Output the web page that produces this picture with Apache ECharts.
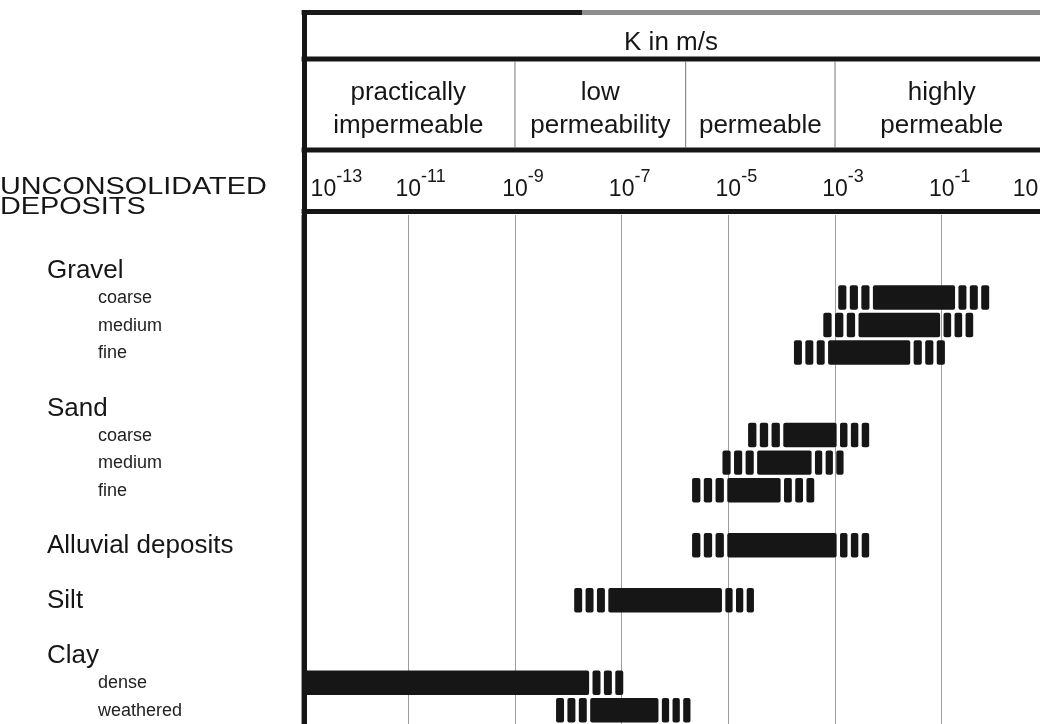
<!DOCTYPE html>
<html><head><meta charset="utf-8">
<script src="https://cdn.jsdelivr.net/npm/echarts@6/dist/echarts.min.js"></script>
<style>html,body{margin:0;padding:0;background:#fff}#c{width:1040px;height:724px}</style>
</head><body><div id="c"></div>
<script>
// ---------------- data ----------------
const rowLabels = ['Gravel','coarse','medium','fine','Sand','coarse','medium','fine','Alluvial deposits','Silt','Clay','dense','weathered'];
const rowIsGroup = [true,false,false,false,true,false,false,false,true,true,true,false,false];
// bars (log10 of K in m/s): row index, uncertain min, typical min, typical max, uncertain max
const barRows          = [1, 2, 3, 5, 6, 7, 8, 9, 11, 12];
const logKMinUncertain = [-2.94,-3.22,-3.77,-4.63,-5.11,-5.68,-5.68,-7.89,-13.00,-8.23];
const logKMinTypical   = [-2.29,-2.56,-3.13,-3.97,-4.46,-5.02,-5.02,-7.25,-13.00,-7.59];
const logKMaxTypical   = [-0.75,-1.03,-1.59,-2.97,-3.44,-4.02,-2.97,-5.12,-7.61,-6.31];
const logKMaxUncertain = [-0.11,-0.41,-0.94,-2.36,-2.84,-3.39,-2.36,-4.52,-6.97,-5.71];
// axis
const logKMin = -13, logKMax = 1, logKStep = 2;
const classNames  = ['practically\nimpermeable','low\npermeability','permeable','highly\npermeable'];
const classBounds = [-13, -9, -5.8, -3, 1];
const axisTitle = 'K in m/s';
const sectionTitle = 'UNCONSOLIDATED\nDEPOSITS';

// ---------------- build ----------------
const FONT = '"Liberation Sans", Arial, Helvetica, sans-serif';
const INK = '#161616';
const rowPos = [];
(function(){ let p = 0; rowIsGroup.forEach(g => { p += g ? 2 : 1; rowPos.push(p); }); })();
const X = v => v - logKMin;  // shift so axis min is 0

const GL = 301.6, GT = 215, GW = 746.8, GH = 509;

const chart = echarts.init(document.getElementById('c'), null, {renderer: 'canvas'});
const supStyle = {fontSize: 18, lineHeight: 20, fontFamily: FONT, color: INK, padding: [0,0,25,0]};
chart.setOption({
  animation: false,
  grid: {left: GL, top: GT, width: GW, height: GH, containLabel: false, outerBoundsMode: 'none'},
  xAxis: {
    type: 'value', position: 'top', min: 0, max: X(logKMax), interval: logKStep,
    axisLine: {show: false}, axisTick: {show: false},
    splitLine: {show: true, lineStyle: {color: '#9c9c9c', width: 1}},
    axisLabel: {
      show: true, margin: 25, verticalAlign: 'middle',
      alignMinLabel: 'left', alignMaxLabel: 'right',
      formatter: v => {
        const e = String(Math.round(v + logKMin));
        if (v === 0) return '{bl|10}{s|' + e + '}';
        if (v === X(logKMax)) return '{b|10}{s|' + e + '}';
        return '{p|' + e + '}{b|10}{s|' + e + '}';
      },
      rich: {
        b: {fontSize: 23, lineHeight: 26, fontFamily: FONT, color: INK},
        bl: {fontSize: 23, lineHeight: 26, fontFamily: FONT, color: INK, padding: [0,0,0,9]},
        s: supStyle,
        p: Object.assign({}, supStyle, {color: 'rgba(0,0,0,0)'})
      }
    }
  },
  yAxis: {type: 'value', inverse: true, min: 0, max: 18.5, show: false},
  series: [
    { // hatched range bars
      type: 'custom', clip: true,
      data: barRows.map((r, k) => [X(logKMinUncertain[k]), X(logKMinTypical[k]), X(logKMaxTypical[k]), X(logKMaxUncertain[k]), rowPos[r]]),
      encode: {x: [0,1,2,3], y: 4},
      renderItem: (params, api) => {
        const y = api.value(4);
        const xs = [0,1,2,3].map(i => api.coord([api.value(i), y])[0]);
        const yc = api.coord([0, y])[1];
        const h = api.size([0, 1])[1] * 0.89;
        const top = yc - h / 2;
        const g = 3.4;
        const kids = [];
        const st = {fill: INK};
        const wl = xs[1] - xs[0];
        if (wl > 4) {
          const s = (wl - 3 * g) / 3;
          for (let i = 0; i < 3; i++) kids.push({type: 'rect', shape: {x: xs[0] + i * (s + g), y: top, width: s, height: h, r: 2}, style: st});
        }
        const sx = Math.max(xs[1], 303);
        kids.push({type: 'rect', shape: {x: sx, y: top, width: xs[2] - sx, height: h, r: 2}, style: st});
        const wr = xs[3] - xs[2];
        if (wr > 4) {
          const s = (wr - 3 * g) / 3;
          for (let i = 0; i < 3; i++) kids.push({type: 'rect', shape: {x: xs[2] + g + i * (s + g), y: top, width: s, height: h, r: 2}, style: st});
        }
        return {type: 'group', children: kids};
      }
    },
    { // row labels
      type: 'custom', clip: false,
      data: rowLabels.map((n, i) => [0, rowPos[i], i]),
      encode: {x: 0, y: 1},
      renderItem: (params, api) => {
        const i = api.value(2);
        const yc = api.coord([0, api.value(1)])[1];
        const grp = rowIsGroup[i];
        return {type: 'text', style: {
          x: grp ? 47 : 98, y: yc + (grp ? 1 : 0.5), text: rowLabels[i],
          font: (grp ? '26px ' : '18px ') + FONT, fill: grp ? INK : '#222',
          verticalAlign: 'middle', align: 'left'}};
      }
    },
    { // permeability classes header
      type: 'custom', clip: false,
      data: classNames.map((n, i) => [X(classBounds[i]), 0, i]),
      encode: {x: 0, y: 1},
      renderItem: (params, api) => {
        const i = api.value(2);
        const x0 = api.coord([X(classBounds[i]), 0])[0];
        const x1 = api.coord([X(classBounds[i + 1]), 0])[0];
        const kids = [{type: 'text', style: {x: (x0 + x1) / 2, y: 142, text: classNames[i],
          font: '26px ' + FONT, fill: INK, align: 'center', verticalAlign: 'bottom', lineHeight: 33}}];
        if (i > 0) kids.push({type: 'line', shape: {x1: x0, y1: 61, x2: x0, y2: 148}, style: {stroke: '#777', lineWidth: 1}});
        return {type: 'group', children: kids};
      }
    }
  ],
  graphic: [
    {type: 'line', shape: {x1: GL, y1: 12.5, x2: 582, y2: 12.5}, style: {stroke: '#1a1a1a', lineWidth: 5}},
    {type: 'line', shape: {x1: 582, y1: 12.5, x2: 1040, y2: 12.5}, style: {stroke: '#8e8e8e', lineWidth: 5}},
    {type: 'line', shape: {x1: GL, y1: 59, x2: 1040, y2: 59}, style: {stroke: INK, lineWidth: 5}},
    {type: 'line', shape: {x1: GL, y1: 150, x2: 1040, y2: 150}, style: {stroke: INK, lineWidth: 5}},
    {type: 'line', shape: {x1: GL, y1: 211.5, x2: 1040, y2: 211.5}, style: {stroke: INK, lineWidth: 5}},
    {type: 'line', shape: {x1: 304.5, y1: 10, x2: 304.5, y2: 724}, style: {stroke: INK, lineWidth: 5}},
    {type: 'text', style: {x: 671, y: 43, text: axisTitle, font: '26px ' + FONT, fill: INK, align: 'center', verticalAlign: 'middle'}},
    {type: 'text', x: 0, y: 0, scaleX: 1.2, style: {x: 0, y: 197, text: sectionTitle, font: '24px ' + FONT, fill: INK, align: 'left', verticalAlign: 'middle', lineHeight: 20}}
  ]
});
</script>
</body></html>
